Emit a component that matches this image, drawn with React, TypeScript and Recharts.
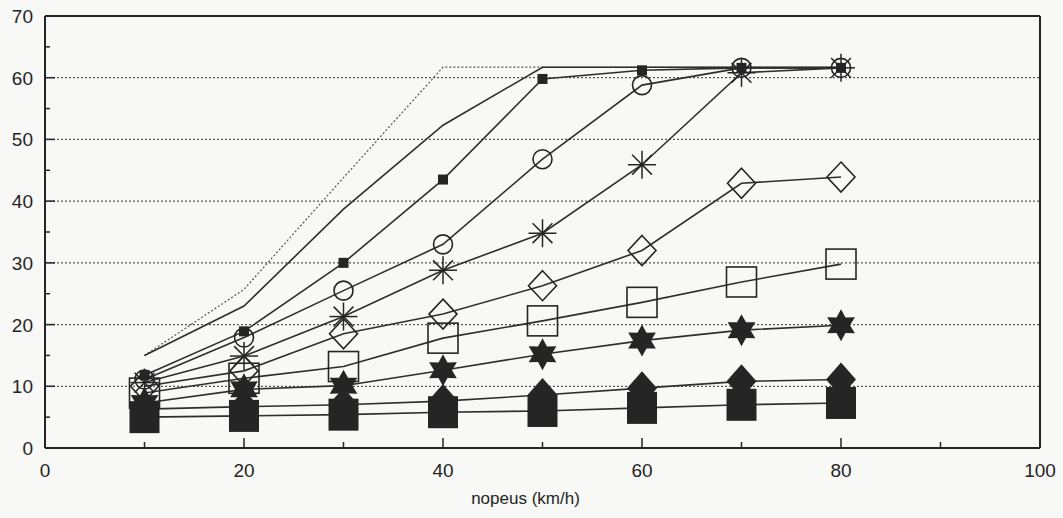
import React from "react";
import { LineChart, Line, XAxis, YAxis, ReferenceLine, Label } from "recharts";

// speed categories (km/h)
const speeds = [10, 20, 30, 40, 50, 60, 70, 80];

// series values
const envelopeDotted = [15, 25.7, 43.8, 61.7, 61.7, 61.7, 61.7, 61.7];
const envelopeSolid = [15, 23, 38.7, 52.3, 61.7, 61.7, 61.7, 61.7];
const smallSquare = [11.8, 18.9, 30.0, 43.5, 59.8, 61.2, 61.6, 61.6];
const openCircle = [11.1, 17.9, 25.5, 33.0, 46.8, 58.8, 61.6, 61.6];
const asterisk = [10.6, 14.9, 21.3, 28.8, 34.8, 45.9, 60.8, 61.6];
const openDiamond = [10.0, 12.5, 18.5, 21.7, 26.3, 32.0, 42.9, 43.9];
const openSquare = [8.9, 11.3, 13.2, 17.8, 20.6, 23.6, 26.9, 29.8];
const filledStar = [7.3, 9.5, 10.1, 12.6, 15.2, 17.4, 19.1, 19.9];
const filledDiamond = [6.3, 6.7, 7.0, 7.6, 8.6, 9.7, 10.8, 11.1];
const filledSquare = [5.0, 5.2, 5.4, 5.8, 6.0, 6.5, 7.0, 7.3];

// axis ticks
const xTicks = [0, 10, 20, 30, 40, 50, 60, 70, 80, 90, 100];
const xLabelTicks = [0, 20, 40, 60, 80, 100];
const yTicks = [0, 5, 10, 15, 20, 25, 30, 35, 40, 45, 50, 55, 60, 65, 70];
const yLabelTicks = [0, 10, 20, 30, 40, 50, 60, 70];
const gridValues = [10, 20, 30, 40, 50, 60];
const xTitle = "nopeus (km/h)";

const rows = speeds.map((s, i) => ({
  x: s,
  dotted: envelopeDotted[i],
  solid: envelopeSolid[i],
  smallSquare: smallSquare[i],
  openCircle: openCircle[i],
  asterisk: asterisk[i],
  openDiamond: openDiamond[i],
  openSquare: openSquare[i],
  filledStar: filledStar[i],
  filledDiamond: filledDiamond[i],
  filledSquare: filledSquare[i],
}));

const INK = "#252525";
const LINE = "#2e2e2e";
const FONT = "'Liberation Sans', Arial, sans-serif";

const XTick = (props: any) => {
  const { x, y, payload } = props;
  const v = payload.value;
  const major = v % 20 === 0;
  return (
    <g>
      {v > 0 && v < 100 && (
        <line x1={x} y1={y} x2={x} y2={y - (major ? 10 : 6)} stroke={INK} strokeWidth={1.5} />
      )}
      {xLabelTicks.includes(v) && (
        <text x={x} y={y + 29} textAnchor="middle" fontSize={19} fontFamily={FONT} fill={INK}>
          {v}
        </text>
      )}
    </g>
  );
};

const YTick = (props: any) => {
  const { x, y, payload } = props;
  const v = payload.value;
  const major = v % 10 === 0;
  return (
    <g>
      {v > 0 && v < 70 && (
        <line x1={x} y1={y} x2={x + (major ? 10 : 5)} y2={y} stroke={INK} strokeWidth={1.5} />
      )}
      {yLabelTicks.includes(v) && (
        <text x={x - 12} y={y + 7} textAnchor="end" fontSize={19} fontFamily={FONT} fill={INK}>
          {v}
        </text>
      )}
    </g>
  );
};

const mk = (name: string, draw: (cx: number, cy: number) => React.ReactNode) => (p: any) => {
  const { cx, cy, index } = p;
  if (cx == null || cy == null) return <g key={`${name}-${index}`} />;
  return <g key={`${name}-${index}`}>{draw(cx, cy)}</g>;
};

const smallSquareDot = mk("ss", (cx, cy) => (
  <rect x={cx - 5} y={cy - 5} width={10} height={10} fill={INK} />
));
const circleDot = mk("oc", (cx, cy) => (
  <circle cx={cx} cy={cy} r={9.5} fill="none" stroke={INK} strokeWidth={1.6} />
));
const asteriskDot = mk("as", (cx, cy) => {
  const r = 14;
  const d = r * 0.7071;
  return (
    <g stroke={INK} strokeWidth={1.5}>
      <line x1={cx - r} y1={cy} x2={cx + r} y2={cy} />
      <line x1={cx} y1={cy - r} x2={cx} y2={cy + r} />
      <line x1={cx - d} y1={cy - d} x2={cx + d} y2={cy + d} />
      <line x1={cx - d} y1={cy + d} x2={cx + d} y2={cy - d} />
    </g>
  );
});
const openDiamondDot = mk("od", (cx, cy) => (
  <polygon
    points={`${cx},${cy - 15} ${cx + 14},${cy} ${cx},${cy + 15} ${cx - 14},${cy}`}
    fill="none"
    stroke={INK}
    strokeWidth={1.6}
  />
));
const openSquareDot = mk("os", (cx, cy) => (
  <rect x={cx - 15} y={cy - 15} width={30} height={30} fill="none" stroke={INK} strokeWidth={1.6} />
));
const starDot = mk("st", (cx, cy) => {
  const ro = 16;
  const ri = 9;
  const pts: string[] = [];
  for (let k = 0; k < 12; k++) {
    const a = (-90 + k * 30) * (Math.PI / 180);
    const r = k % 2 === 0 ? ro : ri;
    pts.push(`${cx + r * Math.cos(a)},${cy + r * Math.sin(a)}`);
  }
  return <polygon points={pts.join(" ")} fill={INK} />;
});
const filledDiamondDot = mk("fd", (cx, cy) => (
  <polygon
    points={`${cx},${cy - 17} ${cx + 15},${cy} ${cx},${cy + 17} ${cx - 15},${cy}`}
    fill={INK}
  />
));
const filledSquareDot = mk("fs", (cx, cy) => (
  <rect x={cx - 15} y={cy - 16} width={30} height={32} fill={INK} />
));

export default function App() {
  return (
    <div style={{ position: "absolute", left: 0, top: 0, width: 1063, height: 518, background: "#f8f8f6" }}>
      <LineChart width={1063} height={518} data={rows} margin={{ top: 16, right: 23, bottom: 0, left: 0 }}>
        <XAxis
          dataKey="x"
          type="number"
          domain={[0, 100]}
          ticks={xTicks}
          interval={0}
          tickSize={0}
          tickMargin={0}
          tickLine={false}
          tick={<XTick />}
          axisLine={{ stroke: INK, strokeWidth: 2 }}
          height={70}
        >
          <Label
            content={(p: any) => {
              const vb = p.viewBox || {};
              return (
                <text
                  x={vb.x + vb.width / 2 - 17}
                  y={vb.y + vb.height - 14}
                  textAnchor="middle"
                  fontSize={17}
                  fontFamily={FONT}
                  fill={INK}
                >
                  {xTitle}
                </text>
              );
            }}
          />
        </XAxis>
        <YAxis
          type="number"
          domain={[0, 70]}
          ticks={yTicks}
          interval={0}
          tickSize={0}
          tickMargin={0}
          tickLine={false}
          tick={<YTick />}
          axisLine={{ stroke: INK, strokeWidth: 2 }}
          width={45}
        />
        {gridValues.map((g) => (
          <ReferenceLine key={g} y={g} stroke="#555" strokeWidth={1.2} strokeDasharray="2 2" />
        ))}
        <ReferenceLine y={70} stroke={INK} strokeWidth={2.2} />
        <ReferenceLine x={100} stroke={INK} strokeWidth={2} />

        <Line dataKey="dotted" stroke="#555" strokeWidth={1.2} strokeDasharray="2 2" dot={false} activeDot={false} isAnimationActive={false} />
        <Line dataKey="solid" stroke={LINE} strokeWidth={1.6} dot={false} activeDot={false} isAnimationActive={false} />
        <Line dataKey="smallSquare" stroke={LINE} strokeWidth={1.6} dot={smallSquareDot} activeDot={false} isAnimationActive={false} />
        <Line dataKey="openCircle" stroke={LINE} strokeWidth={1.6} dot={circleDot} activeDot={false} isAnimationActive={false} />
        <Line dataKey="asterisk" stroke={LINE} strokeWidth={1.6} dot={asteriskDot} activeDot={false} isAnimationActive={false} />
        <Line dataKey="openDiamond" stroke={LINE} strokeWidth={1.6} dot={openDiamondDot} activeDot={false} isAnimationActive={false} />
        <Line dataKey="openSquare" stroke={LINE} strokeWidth={1.6} dot={openSquareDot} activeDot={false} isAnimationActive={false} />
        <Line dataKey="filledStar" stroke={LINE} strokeWidth={1.6} dot={starDot} activeDot={false} isAnimationActive={false} />
        <Line dataKey="filledDiamond" stroke={LINE} strokeWidth={1.6} dot={filledDiamondDot} activeDot={false} isAnimationActive={false} />
        <Line dataKey="filledSquare" stroke={LINE} strokeWidth={1.6} dot={filledSquareDot} activeDot={false} isAnimationActive={false} />
      </LineChart>
    </div>
  );
}
